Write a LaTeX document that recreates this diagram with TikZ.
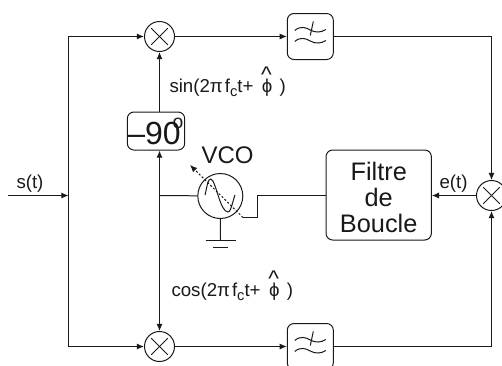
\documentclass[tikz,border=0pt]{standalone}
\usepackage{fontspec}
\usepackage{tikz}
\usetikzlibrary{arrows.meta}
\setmainfont{Liberation Sans}
\newcommand{\phichapeau}{\rlap{\raisebox{7pt}{\kern-0.6pt\fontsize{17}{17}\selectfont\^{}}}\raisebox{-0.5pt}{ϕ}}
\newcommand{\porteuse}[1]{#1(2π\kern1.5pt f\raisebox{-3.5pt}{\fontsize{11}{11}\selectfont c}t+ \kern2.5pt\phichapeau\ \kern1.5pt)}
\tikzset{
  fil/.style={-{Latex[length=5.4pt,width=4.6pt]}},
  mixeur/.style={draw,circle,minimum size=22.5pt,inner sep=0pt,
    path picture={
      \draw ([shift={(-6.2pt,-6.2pt)}]path picture bounding box.center) -- ([shift={(6.2pt,6.2pt)}]path picture bounding box.center);
      \draw ([shift={(-6.2pt,6.2pt)}]path picture bounding box.center) -- ([shift={(6.2pt,-6.2pt)}]path picture bounding box.center);
    }},
  boite/.style={draw,rounded corners=5pt,inner sep=0pt,align=center},
  legende/.style={anchor=base west,inner sep=0pt,font=\fontsize{14}{16}\selectfont}
}
\begin{document}
\begin{tikzpicture}[x=0.75pt,y=-0.75pt,line width=0.75pt,color=black!90]
  \useasboundingbox (0,0) rectangle (502,365);
  \clip (0,0) rectangle (502,365);
  \coordinate (entree) at (8,195.5);
  \coordinate (noeud) at (68.5,195.5);
  \coordinate (oscil) at (159.5,195.5);
  \coordinate (sortievco) at (243,217.5);
  \coordinate (coude) at (257.5,195.5);
  \coordinate (terre) at (220.5,240.5);
  \coordinate (pointe) at (190,165);
  \node[mixeur] (mixhaut) at (159.5,36.5) {};
  \node[mixeur] (mixbas) at (159.5,346.5) {};
  \node[mixeur] (mixdroit) at (491.5,195.5) {};
  \node[boite,minimum width=34.5pt,minimum height=34.5pt] (pbhaut) at (310.3,36.5) {};
  \node[boite,minimum width=34.5pt,minimum height=34.5pt] (pbbas) at (310.3,346.5) {};
  \node[boite,minimum width=39pt,minimum height=28.5pt,font=\fontsize{24}{24}\selectfont] (dephaseur) at (156,131)
    {–90\rlap{\kern-6pt\raisebox{12pt}{\fontsize{14.5}{14.5}\selectfont o}}\kern3pt};
  \node[draw,circle,minimum size=33.75pt,inner sep=0pt] (vco) at (220.3,196) {};
  \node[boite,minimum width=79pt,minimum height=67.5pt,font=\fontsize{19}{19.5}\selectfont] (filtre) at (378.7,195)
    {\rule{0pt}{17pt}Filtre\\de\\Boucle};
  \foreach \pb in {pbhaut,pbbas}{
    \begin{scope}[shift={(\pb.center)}]
      \draw (-15.5,-6) .. controls (-10,-11) and (-4,-9) .. (0,-6.5) .. controls (5,-3.5) and (11,-4) .. (15.5,-7);
      \draw (-15.5,5) .. controls (-10,0) and (-4,2) .. (0,4.5) .. controls (5,7.5) and (11,7) .. (15.5,4);
      \draw (3,-15) -- (0,-1);
    \end{scope}
  }
  \draw (205,195) .. controls (207,187) and (208,178) .. (211,179)
    .. controls (216,181) and (220,212) .. (228,212) .. controls (231,212) and (233,200) .. (235,195);
  \draw[fil] (entree) -- (noeud);
  \draw[fil] (noeud) |- (mixhaut);
  \draw[fil] (noeud) |- (mixbas);
  \draw[fil] (mixhaut) -- (pbhaut);
  \draw[fil] (mixbas) -- (pbbas);
  \draw[fil] (pbhaut) -| (mixdroit);
  \draw[fil] (pbbas) -| (mixdroit);
  \draw[fil] (mixdroit) -- (filtre.east |- mixdroit);
  \draw[fil] (dephaseur.north -| mixhaut) -- (mixhaut);
  \draw[fil] (oscil) -- (dephaseur.south -| oscil);
  \draw[fil] (oscil) -- (mixbas);
  \draw (vco) -- (oscil);
  \draw (filtre.west |- coude) -- (coude) -- (coude |- sortievco) -- (sortievco);
  \draw[dash pattern=on 1.5pt off 1.5pt,-{Latex[length=5.4pt,width=4.6pt]}] (sortievco) -- (pointe);
  \draw (vco) -- (terre);
  \draw ([xshift=-11.25pt]terre) -- ([xshift=11.25pt]terre);
  \draw ([shift={(-7.5,7)}]terre) -- ([shift={(7.5,7)}]terre);
  \node[legende] (entreetxt) at (16,188) {s(t)};
  \node[legende] (erreurtxt) at (439,188) {e(t)};
  \node[legende] (sintxt) at (169,92) {\porteuse{sin}};
  \node[legende] (costxt) at (171,296) {\porteuse{cos}};
  \node[legende,font=\fontsize{18}{18}\selectfont] (vcotxt) at (201,163) {VCO};
\end{tikzpicture}
\end{document}
